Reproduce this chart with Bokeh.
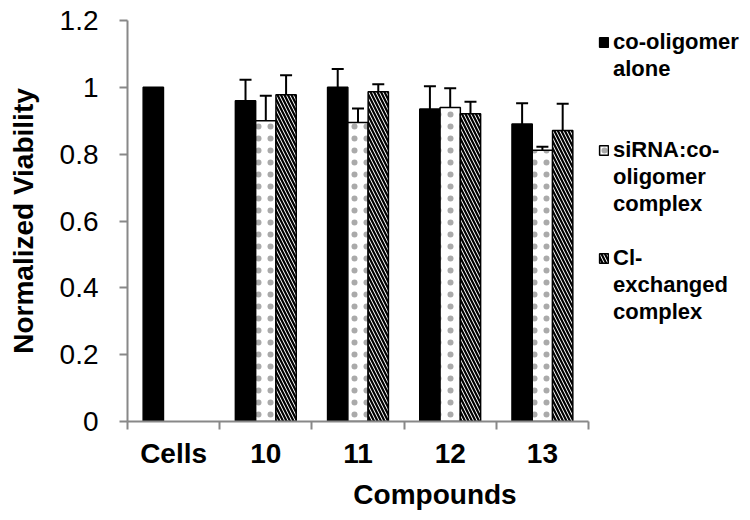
from bokeh.plotting import figure
from bokeh.models import (ColumnDataSource, Whisker, TeeHead, FixedTicker, Legend,
                          LegendItem, Range1d)
from bokeh.embed import file_html
from bokeh.resources import INLINE

# ---- data ----
categories = ["Cells", "10", "11", "12", "13"]
alone = [1.0, 0.96, 1.0, 0.935, 0.89]
alone_err = [0.0, 0.063, 0.055, 0.068, 0.062]
sirna = [None, 0.90, 0.895, 0.94, 0.812]
sirna_err = [None, 0.075, 0.042, 0.057, 0.01]
cl = [None, 0.978, 0.987, 0.921, 0.871]
cl_err = [None, 0.058, 0.022, 0.036, 0.08]
y_ticks = [0, 0.2, 0.4, 0.6, 0.8, 1.0, 1.2]
legend_lines = [["co-oligomer", "alone"],
                ["siRNA:co-", "oligomer", "complex"],
                ["Cl-", "exchanged", "complex"]]

FONT = "Liberation Sans"
W = 0.22
offsets = [-W, 0.0, W]

# layout (pixels)
FIG_W, FIG_H = 742, 512
FRAME_LEFT, FRAME_TOP, FRAME_BOTTOM = 127, 20, 421
CAT_PX = 461                      # width taken by the five categories
frame_w = FIG_W - FRAME_LEFT
x_end = len(categories) * frame_w / CAT_PX


def make_source(vals, errs, off, skip_zero=False):
    xs, ys, up, lo = [], [], [], []
    for i, (v, e) in enumerate(zip(vals, errs)):
        if v is None or (skip_zero and not e):
            continue
        xs.append(i + 0.5 + off)
        ys.append(v)
        up.append(v + e)
        lo.append(v - e)
    return ColumnDataSource(dict(x=xs, top=ys, upper=up, lower=lo))


p = figure(width=FIG_W, height=FIG_H, output_backend="svg", toolbar_location=None,
           x_range=Range1d(0, x_end), y_range=Range1d(0, 1.2),
           min_border_left=FRAME_LEFT, min_border_right=0,
           min_border_top=FRAME_TOP, min_border_bottom=FIG_H - FRAME_BOTTOM)
p.outline_line_color = None
p.grid.grid_line_color = None
p.background_fill_color = "white"
p.border_fill_color = "white"

s1 = make_source(alone, alone_err, offsets[0])
s2 = make_source(sirna, sirna_err, offsets[1])
s3 = make_source(cl, cl_err, offsets[2])

r1 = p.vbar(x="x", top="top", width=W, source=s1, fill_color="black",
            line_color="black", line_width=1.5)
r2 = p.vbar(x="x", top="top", width=W, source=s2, fill_color="white",
            line_color="black", line_width=1.5, hatch_pattern=".",
            hatch_color="#aaaaaa", hatch_scale=12, hatch_weight=1.5)
r3 = p.vbar(x="x", top="top", width=W, source=s3, fill_color="white",
            line_color="black", line_width=1.5, hatch_pattern="\\",
            hatch_color="black", hatch_scale=7, hatch_weight=2.2)
# invisible renderer used for the continuation lines of the legend labels
r_blank = p.vbar(x="x", top="top", width=W,
                 source=ColumnDataSource(dict(x=[], top=[])),
                 fill_alpha=0, line_alpha=0)

err_sources = [make_source(alone, alone_err, offsets[0], skip_zero=True), s2, s3]
for src in err_sources:
    w = Whisker(base="x", upper="upper", lower="lower", source=src,
                line_color="black", line_width=2,
                upper_head=TeeHead(size=12, line_width=2, line_color="black"),
                lower_head=TeeHead(size=12, line_width=2, line_color="black"))
    p.add_layout(w)

# ---- axes ----
xa = p.xaxis[0]
xa.bounds = (0, len(categories))
xa.ticker = FixedTicker(ticks=[i + 0.5 for i in range(len(categories))],
                        minor_ticks=list(range(len(categories) + 1)))
xa.major_label_overrides = {i + 0.5: c for i, c in enumerate(categories)}
xa.major_tick_line_color = None
xa.major_tick_out = 0
xa.major_tick_in = 0
xa.minor_tick_out = 8
xa.minor_tick_in = 0
xa.minor_tick_line_color = "#888888"
xa.minor_tick_line_width = 2
xa.axis_line_color = "#888888"
xa.axis_line_width = 2
xa.major_label_text_font = FONT
xa.major_label_text_font_style = "bold"
xa.major_label_text_font_size = "28px"
xa.major_label_text_color = "black"
xa.major_label_standoff = 8
xa.axis_label = "Compounds"
xa.axis_label_text_font = FONT
xa.axis_label_text_font_style = "bold"
xa.axis_label_text_font_size = "28px"
xa.axis_label_text_color = "black"
xa.axis_label_standoff = 7

ya = p.yaxis[0]
ya.ticker = FixedTicker(ticks=y_ticks, minor_ticks=[])
ya.major_label_overrides = {0: "0", 1: "1", 0.2: "0.2", 0.4: "0.4", 0.6: "0.6",
                            0.8: "0.8", 1.2: "1.2"}
ya.major_tick_out = 8
ya.major_tick_in = 0
ya.major_tick_line_color = "#888888"
ya.major_tick_line_width = 2
ya.minor_tick_line_color = None
ya.axis_line_color = "#888888"
ya.axis_line_width = 2
ya.major_label_text_font = FONT
ya.major_label_text_font_size = "28px"
ya.major_label_text_color = "black"
ya.major_label_standoff = 21
ya.axis_label = "Normalized Viability"
ya.axis_label_text_font = FONT
ya.axis_label_text_font_style = "bold"
ya.axis_label_text_font_size = "28px"
ya.axis_label_text_color = "black"
ya.axis_label_standoff = 18

# ---- legends (one per entry, placed to the right of the bars) ----
LINE_H = 27
first_line_y = [42, 150, 258]     # page y of the first text line of each entry
renderers = [r1, r2, r3]
for lines, rr, y0 in zip(legend_lines, renderers, first_line_y):
    items = [LegendItem(label=lines[0], renderers=[rr])]
    items += [LegendItem(label=t, renderers=[r_blank]) for t in lines[1:]]
    bottom = y0 - LINE_H / 2 + LINE_H * len(lines)
    leg = Legend(items=items, location=(598 - FRAME_LEFT, FRAME_BOTTOM - bottom),
                 border_line_color=None, background_fill_alpha=0,
                 padding=0, margin=0, spacing=0, glyph_width=11,
                 glyph_height=12, label_standoff=4, label_height=LINE_H,
                 label_text_font=FONT, label_text_font_style="bold",
                 label_text_color="black", label_text_font_size="22px")
    p.add_layout(leg)

open("out.html", "w").write(file_html(p, INLINE))
